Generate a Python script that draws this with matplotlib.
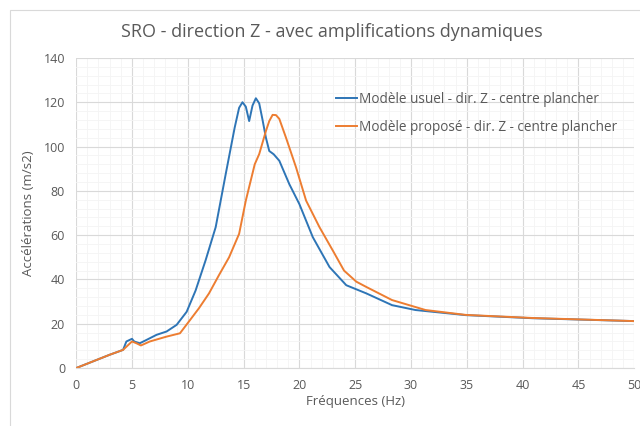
import matplotlib
matplotlib.use("Agg")
import matplotlib.pyplot as plt
from matplotlib.patches import Rectangle
from matplotlib.ticker import MultipleLocator

plt.rcParams['font.family'] = ['Open Sans', 'DejaVu Sans']

# Response spectra, frequency (Hz) vs acceleration (m/s2)
freq_usuel = [0, 3.0, 4.2, 4.5, 5.0, 5.2, 5.7, 6.3, 7.2, 8.1, 9.0, 9.9, 10.7, 11.6,
              12.5, 13.4, 14.2, 14.6, 14.9, 15.2, 15.5, 15.8, 16.1, 16.4, 16.7, 17.0,
              17.3, 17.7, 18.2, 19.1, 20.0, 21.2, 22.7, 24.2, 26.0, 28.3, 30.4, 34.9,
              40.9, 50.0]
acc_usuel = [0, 6.0, 8.2, 12.0, 13.2, 12.0, 11.2, 12.7, 15.0, 16.5, 19.5, 25.4, 35.0,
             48.7, 63.6, 87.6, 108.5, 117.5, 120.0, 118.0, 111.5, 118.5, 121.8, 119.5,
             112.0, 104.0, 98.0, 96.5, 93.6, 83.0, 74.0, 59.1, 45.6, 37.4, 33.7, 28.4,
             26.2, 23.9, 22.5, 21.2]

freq_propose = [0, 3.0, 4.2, 5.0, 5.4, 5.8, 6.6, 8.1, 9.3, 10.1, 11.0, 11.9, 12.8,
                13.7, 14.6, 15.2, 16.0, 16.4, 17.0, 17.3, 17.6, 17.9, 18.2, 18.8, 19.7,
                20.6, 21.8, 23.0, 24.0, 25.1, 26.0, 28.3, 31.3, 34.9, 40.9, 50.0]
acc_propose = [0, 6.0, 8.2, 12.0, 11.2, 10.2, 12.0, 14.2, 15.7, 21.0, 27.0, 33.7, 42.0,
               50.0, 60.6, 75.6, 92.0, 96.6, 107.0, 111.5, 114.3, 114.2, 112.5, 104.0,
               90.6, 75.6, 63.6, 53.0, 44.0, 39.0, 36.6, 30.7, 26.2, 24.0, 22.6, 21.2]

label_usuel = "Modèle usuel - dir. Z - centre plancher"
label_propose = "Modèle proposé - dir. Z - centre plancher"

text_gray = '#595959'

fig = plt.figure(figsize=(6.4, 4.26), dpi=100)
fig.patches.append(Rectangle((10 / 640, -0.01), 1.0, 1 - 10 / 426 + 0.01,
                             transform=fig.transFigure, fill=False,
                             edgecolor='#d9d9d9', linewidth=0.8))
ax = fig.add_axes([0.119, 0.136, 0.872, 0.728])

ax.plot(freq_usuel, acc_usuel, color='#2e75b6', linewidth=1.4, label=label_usuel)
ax.plot(freq_propose, acc_propose, color='#ed7d31', linewidth=1.4, label=label_propose)

ax.set_xlim(0, 50)
ax.set_ylim(0, 140)
ax.xaxis.set_major_locator(MultipleLocator(5))
ax.xaxis.set_minor_locator(MultipleLocator(1))
ax.yaxis.set_major_locator(MultipleLocator(20))
ax.yaxis.set_minor_locator(MultipleLocator(4))
ax.grid(which='major', color='#d9d9d9', linewidth=0.8)
ax.grid(which='minor', color='#f4f4f4', linewidth=0.6)
ax.set_axisbelow(True)

for side in ['top', 'right', 'left']:
    ax.spines[side].set_visible(False)
ax.spines['bottom'].set_color('#d9d9d9')
ax.tick_params(which='both', length=0, labelsize=9, colors=text_gray, pad=8)

ax.set_xlabel("Fréquences (Hz)", fontsize=9.5, color=text_gray, labelpad=2)
ax.set_ylabel("Accélérations (m/s2)", fontsize=9.5, color=text_gray, labelpad=6)
fig.suptitle("SRO - direction Z - avec amplifications dynamiques", x=0.518, y=0.945,
             fontsize=13, color=text_gray)

ax.legend(loc='upper left', bbox_to_anchor=(0.443, 0.93), frameon=False,
          fontsize=9.8, labelcolor=text_gray, handlelength=1.6,
          handletextpad=0.1, labelspacing=0.95)

fig.savefig('out.png', dpi=100)
